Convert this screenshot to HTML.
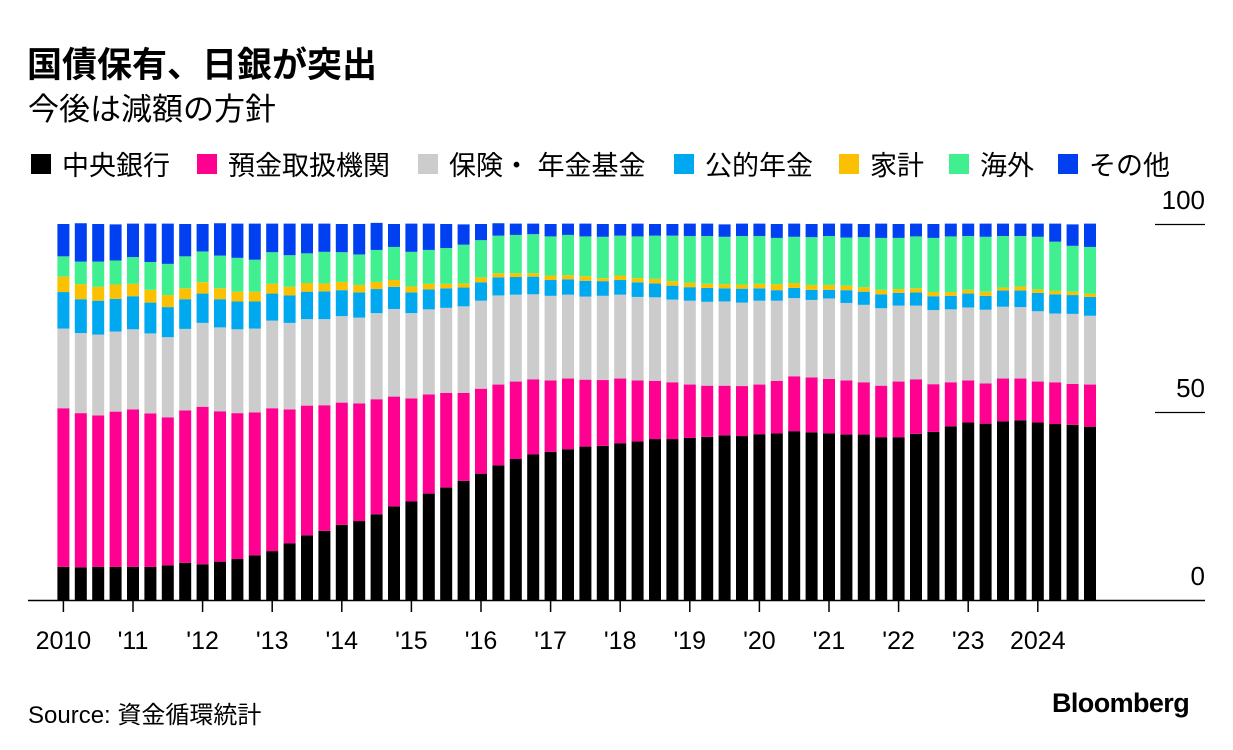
<!DOCTYPE html>
<html><head><meta charset="utf-8">
<style>
body{margin:0;background:#fff;width:1233px;height:750px;overflow:hidden;font-family:"Liberation Sans","Noto Sans CJK JP",sans-serif;color:#000}
.t{position:absolute;white-space:nowrap}
</style></head>
<body>
<div class="t" style="left:27px;top:37px;font-size:35px;font-weight:bold">国債保有、日銀が突出</div>
<div class="t" style="left:28px;top:84px;font-size:31px">今後は減額の方針</div>
<div id="legend"></div>
<svg id="chart" width="1233" height="750" style="position:absolute;left:0;top:0"></svg>
<div class="t" style="left:28px;top:695px;font-size:24px">Source: 資金循環統計</div>
<div class="t" style="left:1052px;top:688px;font-size:27px;font-weight:bold;letter-spacing:-0.6px">Bloomberg</div>
<script>
const seriesNames=["中央銀行","預金取扱機関","保険・ 年金基金","公的年金","家計","海外","その他"];
const colors=["#000000","#ff0090","#cccccc","#00a8f0","#fbc000","#40f090","#0040f0"];
const legendX=[31,197,418,674,839,949,1058];
const centralBank=[8.8,8.7,8.8,8.8,8.8,8.8,9.2,9.9,9.5,10.2,10.9,11.9,13.0,15.1,17.2,18.4,20.0,21.0,22.8,24.9,26.2,28.3,29.9,31.7,33.6,35.8,37.5,38.7,39.4,40.1,40.8,41.0,41.7,42.2,42.8,42.8,43.1,43.4,43.8,43.6,44.1,44.3,44.9,44.6,44.3,44.0,44.0,43.3,43.3,44.2,44.7,46.2,47.2,46.9,47.5,47.8,47.2,46.8,46.6,46.1];
const depository=[42.2,41.0,40.3,41.3,41.9,40.8,39.4,40.5,41.9,40.0,38.8,38.0,38.0,35.6,34.5,33.4,32.5,31.3,30.6,29.2,27.4,26.4,25.2,23.4,22.6,21.5,20.6,20.0,19.0,18.8,17.8,17.5,17.2,16.2,15.5,15.1,14.2,13.6,13.2,13.3,13.2,14.0,14.6,14.6,14.5,14.4,13.9,13.7,14.8,14.5,12.7,11.7,11.2,10.7,11.4,11.1,10.9,11.1,10.9,11.2];
const insurance=[21.2,21.3,21.5,21.3,21.3,21.3,21.3,21.7,22.3,22.3,22.3,22.3,23.3,23.0,23.0,22.9,23.0,22.8,22.9,23.3,22.7,22.6,22.6,23.0,23.4,23.7,23.1,22.6,22.5,22.3,22.1,22.4,22.3,22.2,22.2,22.0,22.3,22.3,22.4,22.2,22.3,21.3,20.8,20.6,21.4,20.6,20.6,20.6,20.2,19.6,19.7,19.4,19.4,19.6,19.1,19.0,18.7,18.3,18.6,18.3];
const publicPension=[9.7,9.0,9.0,8.7,8.8,8.2,8.0,7.9,7.8,7.5,7.4,7.2,7.2,7.3,7.3,7.4,6.9,6.7,6.4,5.9,5.5,5.3,5.2,5.0,4.9,4.8,4.7,4.7,4.2,4.1,4.2,3.9,3.9,3.9,3.7,3.7,3.6,3.7,3.5,3.7,3.3,2.8,2.7,2.7,2.3,3.4,3.5,3.7,3.4,3.5,3.7,3.6,3.7,3.7,4.3,4.4,4.9,5.1,5.0,5.0];
const households=[4.1,4.0,3.7,3.8,3.3,3.4,3.2,2.9,3.0,2.9,2.6,2.6,2.6,2.3,2.3,2.1,2.2,2.0,1.9,1.8,1.6,1.5,1.2,1.1,1.3,1.1,1.0,0.9,1.2,1.1,1.2,0.8,1.2,1.1,1.2,1.2,1.2,1.1,1.1,1.1,1.2,1.6,1.3,1.3,1.3,1.2,1.2,1.2,1.0,1.1,1.1,1.0,1.0,1.1,0.8,1.1,0.9,0.9,0.9,0.9];
const overseas=[5.4,6.0,6.7,6.4,7.1,7.4,8.3,8.5,8.2,8.7,9.0,8.5,8.4,8.4,7.9,8.4,7.9,8.1,8.5,8.8,9.2,9.0,9.5,10.3,9.9,10.0,10.2,10.4,10.4,10.7,10.6,11.0,10.6,11.1,11.5,12.1,12.4,12.7,12.6,12.9,12.7,12.3,12.3,12.7,13.0,12.8,13.3,13.8,13.6,13.8,14.4,14.8,14.3,14.6,13.7,13.4,14.0,13.1,12.2,12.4];
const others=[8.6,10.2,10.0,9.6,8.9,10.2,10.7,8.6,7.3,8.6,9.1,9.6,7.6,8.4,7.9,7.5,7.5,8.1,7.2,6.1,7.5,7.0,6.4,5.4,4.3,3.3,3.0,2.8,3.3,3.0,3.4,3.4,3.1,3.4,3.1,3.1,3.3,3.3,3.3,3.3,3.3,3.7,3.5,3.5,3.3,3.7,3.5,3.8,3.7,3.4,3.7,3.4,3.3,3.5,3.3,3.3,3.5,4.8,5.7,6.2];
const yearLabels=["2010","'11","'12","'13","'14","'15","'16","'17","'18","'19","'20","'21","'22","'23","2024"];
const yTicks=[0,50,100];
const seriesData=[centralBank,depository,insurance,publicPension,households,overseas,others];

const NS="http://www.w3.org/2000/svg";
const svg=document.getElementById('chart');
const x0=63.4, step=17.4, barW=12, yBase=600, yTop=224;
function xq(i){return x0+i*step;}
function yv(v){return yBase-(v/100)*(yBase-yTop);}
function mk(tag,attrs){const e=document.createElementNS(NS,tag);for(const k in attrs)e.setAttribute(k,attrs[k]);svg.appendChild(e);return e;}

const n=centralBank.length;
for(let i=0;i<n;i++){
  let cum=0;
  for(let s=0;s<seriesData.length;s++){
    const v=seriesData[s][i];
    const r=mk('rect',{x:xq(i)-barW/2,y:yv(cum+v),width:barW,height:yv(cum)-yv(cum+v),fill:colors[s]});
    
    
    cum+=v;
  }
}
const ax=mk('line',{x1:28,x2:1205,y1:yBase+0.5,y2:yBase+0.5,stroke:'#000','stroke-width':1.5});


yearLabels.forEach((lab,k)=>{
  const x=xq(k*4);
  const tk=mk('line',{x1:x,x2:x,y1:yBase,y2:yBase+12,stroke:'#000','stroke-width':1.5});
  
  
  const t=mk('text',{x:x,y:649,'text-anchor':'middle','font-size':25,'font-family':'"Liberation Sans",sans-serif'});
  t.textContent=lab;
  
  
});
yTicks.forEach(v=>{
  const y=yv(v);
  if(v>0){
    const g=mk('line',{x1:1155,x2:1205,y1:y+0.5,y2:y+0.5,stroke:'#000','stroke-width':1.2});
    
    
  }
  const t=mk('text',{x:1205,y:y-15,'text-anchor':'end','font-size':26,'font-family':'"Liberation Sans",sans-serif'});
  t.textContent=v;
  
  
});
const lg=document.getElementById('legend');
seriesNames.forEach((nm,s)=>{
  const it=document.createElement('div');
  it.className='t';
  it.style.cssText='left:'+legendX[s]+'px;top:144px;font-size:27px;display:flex;align-items:center';
  
  
  const sq=document.createElement('span');
  sq.style.cssText='display:inline-block;width:20px;height:20px;margin-right:11px;background:'+colors[s];
  it.appendChild(sq);
  const tx=document.createElement('span');
  tx.textContent=nm;
  it.appendChild(tx);
  lg.appendChild(it);
});
</script>
</body></html>
